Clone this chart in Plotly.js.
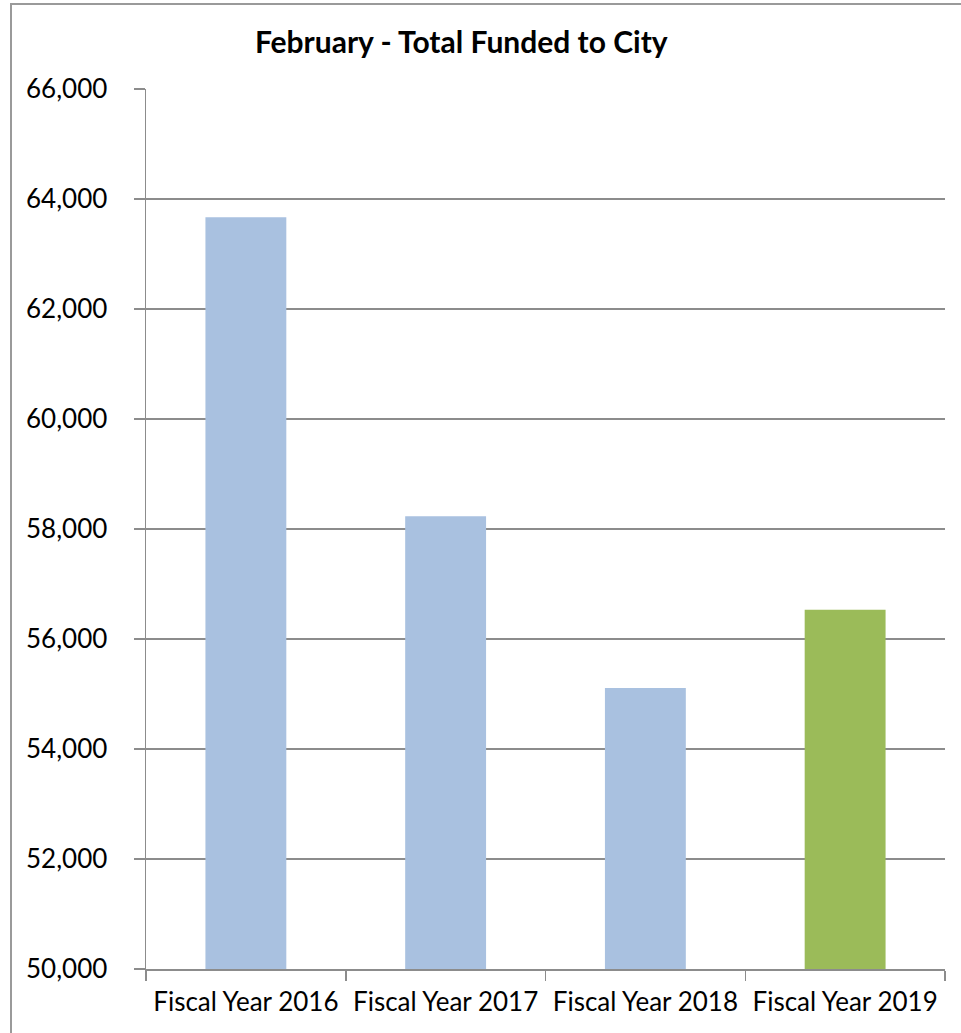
<!DOCTYPE html>
<html>
<head>
<meta charset="utf-8">
<script src="https://cdn.plot.ly/plotly-3.0.1.min.js"></script>
<style>
html,body{margin:0;padding:0;background:#fff;overflow:hidden;}
#frame{position:absolute;left:10px;top:3px;width:1000px;height:1100px;border:2px solid #9a9a9a;box-sizing:border-box;}
#chart{position:absolute;left:0;top:0;width:961px;height:1033px;}
</style>
</head>
<body>
<div id="frame"></div>
<div id="chart"></div>
<script>
const categories = ["Fiscal Year 2016", "Fiscal Year 2017", "Fiscal Year 2018", "Fiscal Year 2019"];
const values = [63670, 58230, 55110, 56530];
const barColors = ["#a9c1e0", "#a9c1e0", "#a9c1e0", "#9bbb59"];
const yTicks = [50000, 52000, 54000, 56000, 58000, 60000, 62000, 64000, 66000];
const titleText = "February - Total Funded to City";

const trace = {
  type: "bar",
  x: categories,
  y: values,
  marker: {color: barColors, line: {width: 0}},
  width: 0.405,
  hoverinfo: "skip"
};

const FONT = "Lato, 'Open Sans', sans-serif";

const layout = {
  width: 961, height: 1033,
  paper_bgcolor: "rgba(0,0,0,0)",
  plot_bgcolor: "rgba(0,0,0,0)",
  margin: {l: 146, r: 16, t: 89, b: 64, pad: 0},
  showlegend: false,
  font: {family: FONT, color: "#000"},
  title: {
    text: "<b>" + titleText + "</b>",
    x: 0.48, xanchor: "center",
    y: 0.041, yanchor: "middle", yref: "container",
    font: {size: 30, family: FONT, color: "#000"}
  },
  xaxis: {
    type: "category",
    showline: true, linecolor: "#8c8c8c", linewidth: 1.5,
    ticks: "outside", tickson: "boundaries", ticklen: 10, tickcolor: "#8c8c8c", tickwidth: 1.5,
    showgrid: false,
    tickfont: {size: 26, family: FONT, color: "#000"},
    ticklabelstandoff: 9
  },
  yaxis: {
    range: [50000, 66000],
    tickvals: yTicks,
    ticktext: yTicks.map(v => v.toLocaleString("en-US")),
    showline: true, linecolor: "#8c8c8c", linewidth: 1.5,
    ticks: "outside", ticklen: 11, tickcolor: "#8c8c8c", tickwidth: 1.5,
    showgrid: true, gridcolor: "#8c8c8c", gridwidth: 1.3,
    zeroline: false,
    tickfont: {size: 26, family: FONT, color: "#000"},
    ticklabelstandoff: 21
  }
};

layout.title.y = 1 - 42 / 1033;

Plotly.newPlot("chart", [trace], layout, {staticPlot: true, displayModeBar: false});
</script>
</body>
</html>
